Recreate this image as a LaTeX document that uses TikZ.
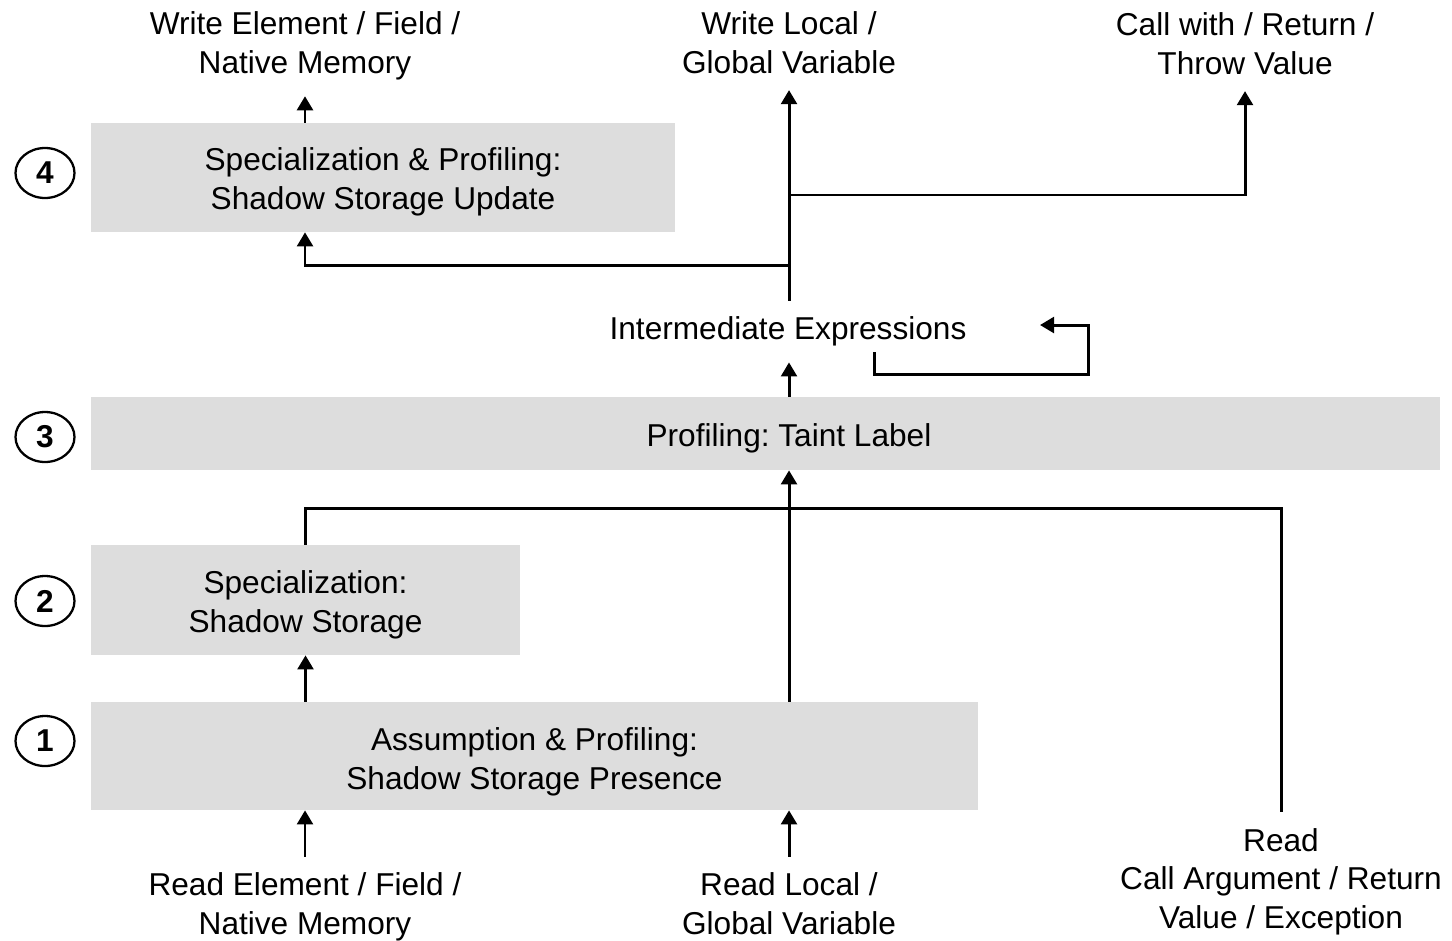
\documentclass[tikz,border=0pt]{standalone}
\usepackage{fontspec}
\setmainfont{Liberation Sans}
\usetikzlibrary{arrows.meta,shapes.geometric}
\definecolor{boxgray}{HTML}{DDDDDD}
\begin{document}
\begin{tikzpicture}[x=0.02cm,y=-0.02cm,
  font=\fontsize{18}{22}\selectfont\frenchspacing,
  stage/.style={fill=boxgray,draw=none,inner sep=0pt},
  stagetext/.style={align=center,inner sep=0pt},
  lbl/.style={align=center,inner sep=9pt},
  num/.style={ellipse,draw,line width=1.3pt,minimum width=1.18cm,minimum height=1.0cm,inner sep=0pt,font=\fontsize{18}{22}\selectfont\bfseries},
  link/.style={line width=1.7pt},
  arr/.style={link,-{Triangle[length=8pt,width=9pt]}}]
\useasboundingbox (0,0) rectangle (1452,940);

% stage boxes
\node[stage,minimum width=11.68cm,minimum height=2.18cm] (box4) at (383,177.5) {};
\node[stage,minimum width=26.98cm,minimum height=1.46cm] (box3) at (765.5,433.5) {};
\node[stage,minimum width=8.58cm,minimum height=2.2cm] (box2) at (305.5,600) {};
\node[stage,minimum width=17.74cm,minimum height=2.16cm] (box1) at (534.5,756) {};

% stage captions
\node[stagetext] (t4) at (383,182) {Specialization \& Profiling:\\Shadow Storage Update};
\node[stagetext] (t3) at (789,438) {Profiling: Taint Label};
\node[stagetext] (t2) at (305.5,605) {Specialization:\\Shadow Storage};
\node[stagetext] (t1) at (534.5,761.5) {Assumption \& Profiling:\\Shadow Storage Presence};

% stage numbers
\node[num] (n4) at (45,173) {4};
\node[num] (n3) at (45,437) {3};
\node[num] (n2) at (45,601) {2};
\node[num] (n1) at (45,741) {1};

% sinks
\node[lbl] (wm) at (305,46) {Write Element / Field /\\Native Memory};
\node[lbl] (wl) at (789,43) {Write Local /\\Global Variable};
\node[lbl] (cr) at (1245,44) {Call with / Return /\\Throw Value};

% intermediate
\node[lbl] (ie) at (788,331.5) {Intermediate Expressions};

% sources
\node[lbl] (rm) at (305,907) {Read Element / Field /\\Native Memory};
\node[lbl] (rl) at (789,904) {Read Local /\\Global Variable};
\node[lbl] (rc) at (1281,881.5) {Read\\Call Argument / Return\\Value / Exception};

% junctions
\coordinate (j2) at (789,195);
\coordinate (j3) at (789,265);
\coordinate (l1) at (874,352);
\coordinate (l2) at (1088,374);
\coordinate (l3) at (1040,325);
\coordinate (j5) at (1281,508);

% top part
\draw[arr] (box4.north -| wm.south) -- (wm.south);
\draw[arr] (ie.north -| wl.south) -- (wl.south);
\draw[arr] (j2) -| (cr.south);
\draw[arr] (j3) -| (box4.south -| wm.south);
\draw[arr] (box3.north -| wl.south) -- (ie.south -| wl.south);
\draw[arr] (l1) |- (l2) |- (l3);

% bottom part
\draw[arr] (box1.north -| box2.south) -- (box2.south);
\draw[link] (box2.north) |- (j5) -- (rc.north);
\draw[arr] (box1.north -| rl.north) -- (box3.south -| rl.north);
\draw[arr] (rm.north) -- (box1.south -| rm.north);
\draw[arr] (rl.north) -- (box1.south -| rl.north);
\end{tikzpicture}
\end{document}
